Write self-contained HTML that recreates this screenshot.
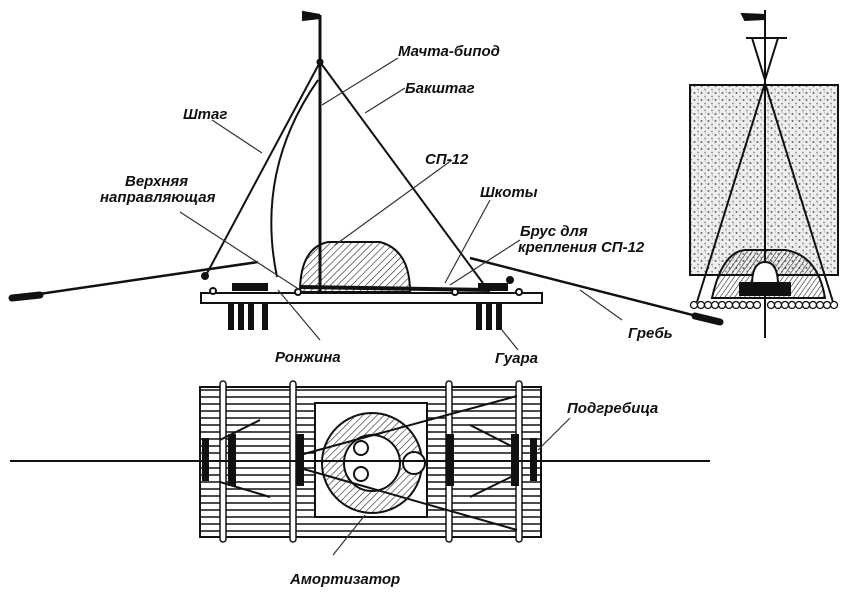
<!DOCTYPE html>
<html><head><meta charset="utf-8"><style>
body{margin:0;background:#fff}
svg{display:block}
text{font-family:"Liberation Sans",sans-serif;font-style:italic;font-weight:bold;font-size:15px;fill:#111}
</style></head><body>
<svg width="850" height="593" viewBox="0 0 850 593" xmlns="http://www.w3.org/2000/svg">
<defs>
<pattern id="hatch" width="5" height="5" patternUnits="userSpaceOnUse" patternTransform="rotate(45)">
<line x1="0" y1="0" x2="0" y2="5" stroke="#222" stroke-width="1.2"/></pattern>
<pattern id="hatch2" width="4" height="4" patternUnits="userSpaceOnUse" patternTransform="rotate(35)">
<line x1="0" y1="0" x2="0" y2="4" stroke="#222" stroke-width="1.2"/></pattern>
<pattern id="dots" width="7" height="7" patternUnits="userSpaceOnUse">
<rect width="7" height="7" fill="#eee"/>
<circle cx="1.5" cy="2" r="1" fill="#666"/><circle cx="5" cy="5.5" r="0.9" fill="#888"/><circle cx="5.5" cy="1" r="0.6" fill="#aaa"/></pattern>
</defs>
<g stroke="#111" fill="none" stroke-width="2">
<!-- side view -->
<rect x="201" y="293" width="341" height="10" fill="#fff"/>
<line x1="320" y1="15" x2="320" y2="293" stroke-width="3"/>
<path d="M320 15 L303 12 L303 20 L320 18" fill="#111"/>
<line x1="320" y1="62" x2="205" y2="277"/>
<line x1="320" y1="62" x2="488" y2="290"/>
<circle cx="320" cy="62" r="2.5" fill="#111"/>
<path d="M318 80 Q255 170 277 277"/>
<line x1="12" y1="298" x2="258" y2="262" stroke-width="2.5"/>
<line x1="12" y1="298" x2="40" y2="295" stroke-width="7" stroke-linecap="round"/>
<line x1="470" y1="258" x2="720" y2="322" stroke-width="2.5"/>
<line x1="695" y1="316" x2="720" y2="322" stroke-width="7" stroke-linecap="round"/>
<circle cx="205" cy="276" r="3" fill="#111"/><circle cx="510" cy="280" r="3" fill="#111"/>
<path d="M300 292 Q300 248 328 242 L380 242 Q410 250 410 292 Z" fill="url(#hatch)"/>
<line x1="300" y1="287" x2="490" y2="290" stroke-width="4"/>
<g fill="#111" stroke="none">
<rect x="228" y="303" width="6" height="27"/><rect x="238" y="303" width="6" height="27"/><rect x="248" y="303" width="6" height="27"/>
<rect x="262" y="303" width="6" height="27"/>
<rect x="476" y="303" width="6" height="27"/><rect x="486" y="303" width="6" height="27"/><rect x="496" y="303" width="6" height="27"/>
<rect x="232" y="283" width="36" height="8"/><rect x="478" y="283" width="30" height="8"/>
</g>
<circle cx="213" cy="291" r="3" fill="#fff"/><circle cx="298" cy="292" r="3" fill="#fff"/><circle cx="455" cy="292" r="3" fill="#fff"/><circle cx="519" cy="292" r="3" fill="#fff"/>
<!-- right view -->
<rect x="690" y="85" width="148" height="190" fill="url(#dots)"/>
<line x1="765" y1="10" x2="765" y2="338"/>
<path d="M765 15 L742 14 L745 20 L765 19" fill="#111"/>
<line x1="746" y1="38" x2="787" y2="38"/>
<line x1="752" y1="38" x2="765" y2="80"/><line x1="778" y1="38" x2="765" y2="80"/>
<line x1="765" y1="83" x2="697" y2="302"/><line x1="765" y1="83" x2="833" y2="302"/>
<path d="M712 298 Q722 252 745 250 L785 250 Q818 255 825 298 Z" fill="url(#hatch2)"/>
<path d="M752 285 Q752 262 765 262 Q778 262 778 285 Z" fill="#fff"/>
<rect x="740" y="283" width="50" height="12" fill="#111"/>
<g stroke-width="1.3" fill="#fff">
<circle cx="694" cy="305" r="3.5"/><circle cx="701" cy="305" r="3.5"/><circle cx="708" cy="305" r="3.5"/><circle cx="715" cy="305" r="3.5"/><circle cx="722" cy="305" r="3.5"/><circle cx="729" cy="305" r="3.5"/><circle cx="736" cy="305" r="3.5"/><circle cx="743" cy="305" r="3.5"/><circle cx="750" cy="305" r="3.5"/><circle cx="757" cy="305" r="3.5"/><circle cx="771" cy="305" r="3.5"/><circle cx="778" cy="305" r="3.5"/><circle cx="785" cy="305" r="3.5"/><circle cx="792" cy="305" r="3.5"/><circle cx="799" cy="305" r="3.5"/><circle cx="806" cy="305" r="3.5"/><circle cx="813" cy="305" r="3.5"/><circle cx="820" cy="305" r="3.5"/><circle cx="827" cy="305" r="3.5"/><circle cx="834" cy="305" r="3.5"/>
</g>
<!-- top view -->
<g stroke-width="1.5">
<line x1="200" y1="390" x2="540" y2="390"/><line x1="200" y1="397" x2="540" y2="397"/><line x1="200" y1="404" x2="315" y2="404"/><line x1="427" y1="404" x2="540" y2="404"/>
<line x1="200" y1="411" x2="315" y2="411"/><line x1="427" y1="411" x2="540" y2="411"/><line x1="200" y1="418" x2="315" y2="418"/><line x1="427" y1="418" x2="540" y2="418"/>
<line x1="200" y1="425" x2="315" y2="425"/><line x1="427" y1="425" x2="540" y2="425"/><line x1="200" y1="432" x2="315" y2="432"/><line x1="427" y1="432" x2="540" y2="432"/>
<line x1="200" y1="439" x2="315" y2="439"/><line x1="427" y1="439" x2="540" y2="439"/><line x1="200" y1="446" x2="315" y2="446"/><line x1="427" y1="446" x2="540" y2="446"/>
<line x1="200" y1="453" x2="315" y2="453"/><line x1="427" y1="453" x2="540" y2="453"/><line x1="200" y1="468" x2="315" y2="468"/><line x1="427" y1="468" x2="540" y2="468"/>
<line x1="200" y1="475" x2="315" y2="475"/><line x1="427" y1="475" x2="540" y2="475"/><line x1="200" y1="482" x2="315" y2="482"/><line x1="427" y1="482" x2="540" y2="482"/>
<line x1="200" y1="489" x2="315" y2="489"/><line x1="427" y1="489" x2="540" y2="489"/><line x1="200" y1="496" x2="315" y2="496"/><line x1="427" y1="496" x2="540" y2="496"/>
<line x1="200" y1="503" x2="315" y2="503"/><line x1="427" y1="503" x2="540" y2="503"/><line x1="200" y1="510" x2="315" y2="510"/><line x1="427" y1="510" x2="540" y2="510"/>
<line x1="200" y1="517" x2="540" y2="517"/><line x1="200" y1="524" x2="540" y2="524"/><line x1="200" y1="531" x2="540" y2="531"/>
</g>
<rect x="200" y="387" width="341" height="150"/>
<rect x="315" y="403" width="112" height="114"/>
<g fill="#fff" stroke-width="1.5">
<rect x="220" y="381" width="6" height="161" rx="3"/><rect x="290" y="381" width="6" height="161" rx="3"/>
<rect x="446" y="381" width="6" height="161" rx="3"/><rect x="516" y="381" width="6" height="161" rx="3"/>
</g>
<circle cx="372" cy="463" r="50" fill="url(#hatch)"/>
<circle cx="372" cy="463" r="28" fill="#fff"/>
<circle cx="361" cy="448" r="7" fill="#fff"/><circle cx="361" cy="474" r="7" fill="#fff"/>
<circle cx="414" cy="463" r="11" fill="#fff"/>
<line x1="10" y1="461" x2="710" y2="461"/>
<line x1="220" y1="440" x2="260" y2="420"/><line x1="220" y1="482" x2="270" y2="497"/>
<line x1="470" y1="425" x2="515" y2="448"/><line x1="470" y1="497" x2="515" y2="475"/>
<line x1="300" y1="455" x2="517" y2="396"/><line x1="300" y1="468" x2="517" y2="530"/>
<g fill="#111" stroke="none">
<rect x="202" y="438" width="7" height="43"/><rect x="228" y="434" width="8" height="52"/>
<rect x="296" y="434" width="8" height="52"/><rect x="446" y="434" width="8" height="52"/>
<rect x="511" y="434" width="8" height="52"/><rect x="530" y="438" width="7" height="43"/>
</g>
</g>
<!-- leader lines -->
<g stroke="#333" stroke-width="1.2">
<line x1="398" y1="58" x2="322" y2="105"/><line x1="405" y1="88" x2="365" y2="113"/>
<line x1="212" y1="120" x2="262" y2="153"/><line x1="452" y1="160" x2="335" y2="245"/>
<line x1="180" y1="212" x2="300" y2="290"/><line x1="490" y1="200" x2="445" y2="283"/>
<line x1="520" y1="240" x2="450" y2="285"/><line x1="278" y1="290" x2="320" y2="340"/>
<line x1="502" y1="330" x2="518" y2="350"/><line x1="580" y1="290" x2="622" y2="320"/>
<line x1="570" y1="418" x2="538" y2="450"/><line x1="333" y1="555" x2="365" y2="515"/>
</g>
<text x="398" y="56">Мачта-бипод</text>
<text x="405" y="93">Бакштаг</text>
<text x="183" y="119">Штаг</text>
<text x="425" y="164">СП-12</text>
<text x="125" y="186">Верхняя</text>
<text x="100" y="202">направляющая</text>
<text x="480" y="197">Шкоты</text>
<text x="520" y="236">Брус для</text>
<text x="518" y="252">крепления СП-12</text>
<text x="275" y="362">Ронжина</text>
<text x="495" y="363">Гуара</text>
<text x="628" y="338">Гребь</text>
<text x="567" y="413">Подгребица</text>
<text x="290" y="584">Амортизатор</text>
</svg>
</body></html>
